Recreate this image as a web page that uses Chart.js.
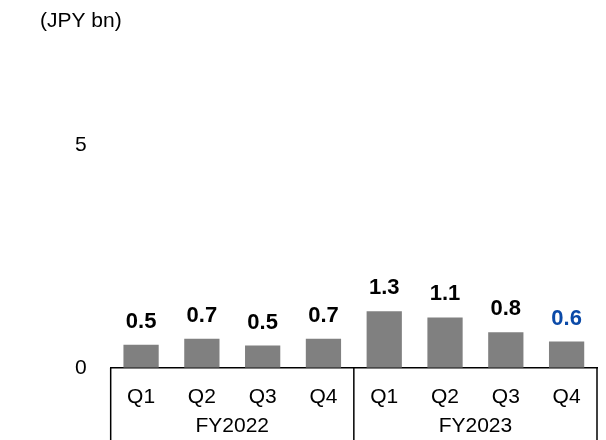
<!DOCTYPE html>
<html lang="ja">
<head>
<meta charset="UTF-8">
<title>JPY bn quarterly</title>
<style>
  body { margin: 0; background: #fff; }
  #wrap { width: 606px; height: 440px; }
</style>
</head>
<body>
<div id="wrap"><canvas id="grafico"></canvas></div>
<script src="https://cdn.jsdelivr.net/npm/chart.js"></script>
<script>
const quarters = ['Q1', 'Q2', 'Q3', 'Q4', 'Q1', 'Q2', 'Q3', 'Q4'];
const fiscalYears = ['FY2022', 'FY2023'];
const values = [0.52, 0.65, 0.5, 0.65, 1.27, 1.13, 0.8, 0.59];
const valueLabels = ['0.5', '0.7', '0.5', '0.7', '1.3', '1.1', '0.8', '0.6'];
const yTicks = [0, 5];
const unitLabel = '(JPY bn)';

const FONT = '"Liberation Sans", Arial, sans-serif';

// etiquetas de valor, linhas divisórias e nomes dos anos fiscais
const extras = {
  id: 'extras',
  afterDatasetsDraw(chart) {
    const ctx = chart.ctx;
    const xs = chart.scales.x;
    const area = chart.chartArea;
    const meta = chart.getDatasetMeta(0);
    ctx.save();
    ctx.font = 'bold 22px ' + FONT;
    ctx.textAlign = 'center';
    ctx.textBaseline = 'alphabetic';
    meta.data.forEach((bar, i) => {
      ctx.fillStyle = i === values.length - 1 ? '#0B4AA8' : '#000';
      ctx.fillText(valueLabels[i], bar.x, bar.y - 17);
    });

    const step = xs.getPixelForValue(1) - xs.getPixelForValue(0);
    ctx.strokeStyle = '#000';
    ctx.lineWidth = 1.5;
    [0, 4, 8].forEach(i => {
      const x = xs.getPixelForValue(0) + (i - 0.5) * step;
      ctx.beginPath();
      ctx.moveTo(x, area.bottom);
      ctx.lineTo(x, chart.height);
      ctx.stroke();
    });

    ctx.font = '21px ' + FONT;
    ctx.fillStyle = '#000';
    ctx.textBaseline = 'middle';
    fiscalYears.forEach((fy, g) => {
      const x = (xs.getPixelForValue(g * 4) + xs.getPixelForValue(g * 4 + 3)) / 2;
      ctx.fillText(fy, x, 426);
    });

    ctx.textAlign = 'left';
    ctx.fillText(unitLabel, 40, 21);
    ctx.restore();
  }
};

new Chart(document.getElementById('grafico'), {
  type: 'bar',
  data: {
    labels: quarters,
    datasets: [{
      data: values,
      backgroundColor: '#808080',
      barPercentage: 0.58,
      categoryPercentage: 1
    }]
  },
  options: {
    responsive: true,
    maintainAspectRatio: false,
    animation: false,
    layout: { padding: { top: 56, left: 51, right: 9, bottom: 13 } },
    plugins: { legend: { display: false }, tooltip: { enabled: false } },
    scales: {
      x: {
        grid: { display: false, drawTicks: false },
        border: { display: true, color: '#000', width: 1.5 },
        ticks: { color: '#000', font: { family: FONT, size: 21 }, padding: 17 }
      },
      y: {
        min: 0,
        max: 7,
        afterBuildTicks: axis => { axis.ticks = yTicks.map(v => ({ value: v })); },
        grid: { display: false, drawTicks: false },
        border: { display: false },
        ticks: { color: '#000', font: { family: FONT, size: 21 }, padding: 24 }
      }
    }
  },
  plugins: [extras]
});
</script>
</body>
</html>
